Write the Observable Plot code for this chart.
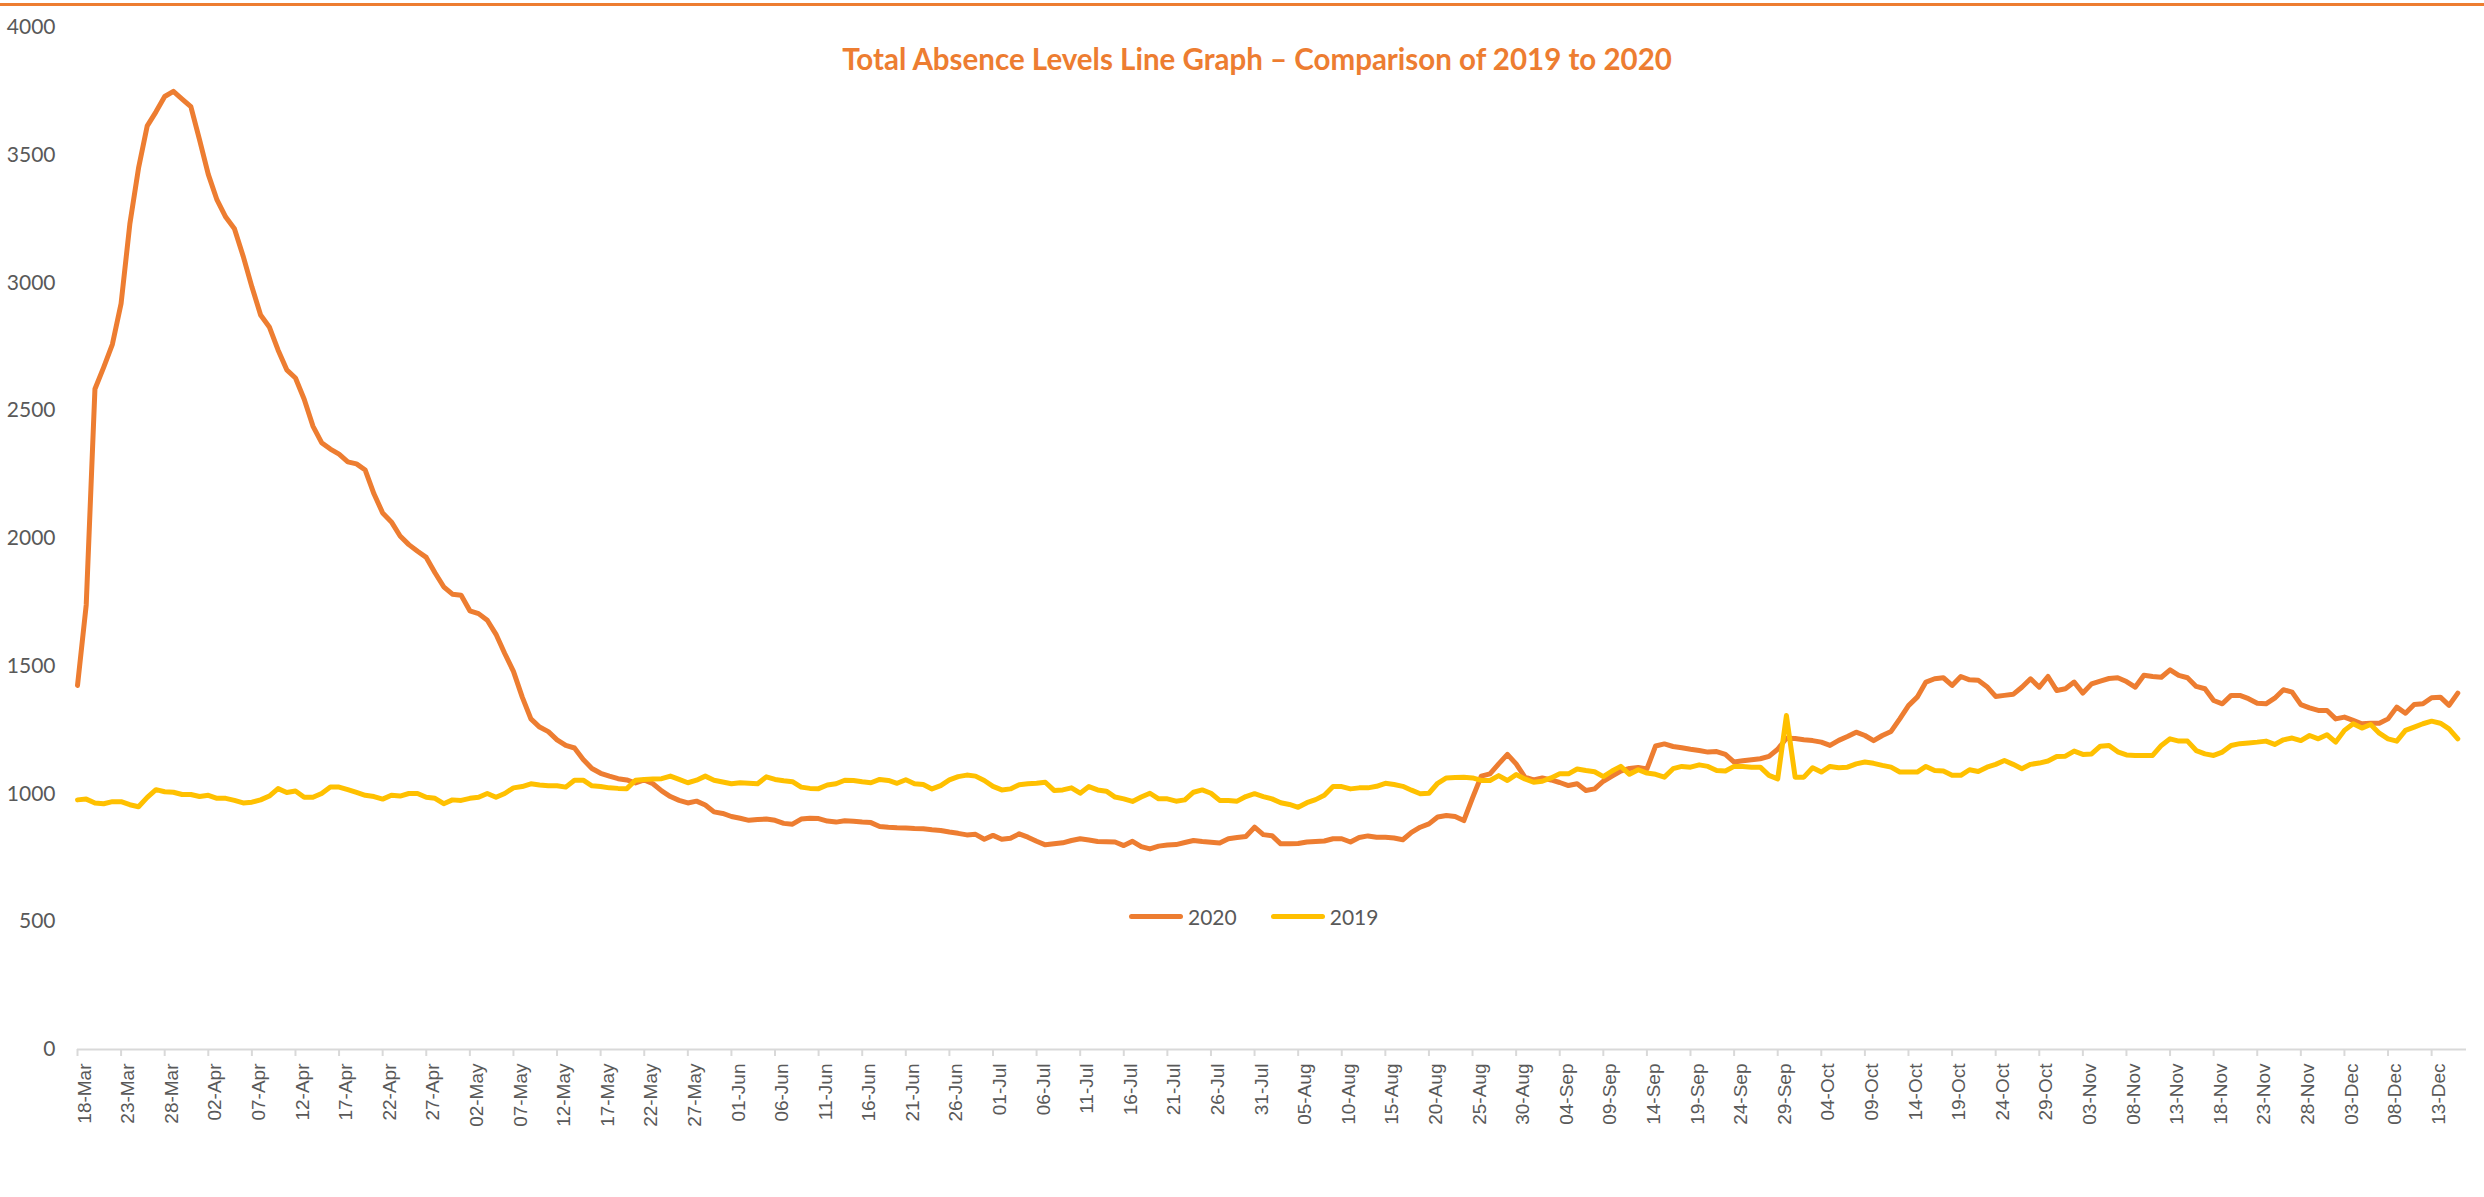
<!DOCTYPE html>
<html>
<head>
<meta charset="utf-8">
<script src="https://cdn.jsdelivr.net/npm/d3@7"></script>
<script src="https://cdn.jsdelivr.net/npm/@observablehq/plot@0.6"></script>
<style>
  html, body { margin: 0; padding: 0; background: #fff; }
  #wrap { position: relative; width: 2484px; height: 1197px; overflow: hidden; }
  #topline { position: absolute; left: 0; top: 3px; width: 2484px; height: 3px; background: #ED7D31; }
  #title { position: absolute; left: 1257px; top: 44px; transform: translateX(-50%); white-space: nowrap;
           font-family: Lato, sans-serif; font-weight: 700; font-size: 29.5px; line-height: 30px; color: #ED7D31; }
  #legend { position: absolute; left: 1129px; top: 903px; height: 26px; display: flex; align-items: center;
            font-family: Lato, sans-serif; font-size: 21px; color: #595959; }
  .sw { display: inline-block; width: 54px; height: 5px; border-radius: 3px; margin-right: 5px; }
  .item { display: flex; align-items: center; margin-right: 34px; }
</style>
</head>
<body>
<div id="wrap">
  <div id="topline"></div>
  <div id="chart"></div>
  <div id="title">Total Absence Levels Line Graph – Comparison of 2019 to 2020</div>
  <div id="legend"></div>
</div>
<script>
// Series names and colours
const seriesNames = ["2020", "2019"];
const seriesColors = ["#ED7D31", "#FFC000"];

// Daily total absence, 18-Mar to 16-Dec (one value per day)
const absence2020 = [
1425,1740,2585,2670,2760,2920,3230,3450,3615,3670,
3730,3750,3720,3690,3560,3425,3325,3258,3212,3105,
2985,2875,2828,2738,2660,2628,2545,2440,2375,2350,
2330,2300,2292,2268,2175,2100,2065,2010,1976,1950,
1926,1866,1811,1782,1778,1717,1706,1680,1625,1550,
1480,1380,1294,1262,1244,1212,1190,1180,1135,1100,
1081,1070,1060,1055,1043,1055,1040,1012,990,975,
965,972,957,930,924,912,905,897,900,902,
897,885,882,902,905,904,894,890,895,893,
890,888,873,870,868,867,865,864,860,857,
851,846,840,842,823,838,823,827,844,831,
815,801,805,809,818,825,820,814,813,812,
798,815,794,785,796,800,802,810,818,814,
811,808,825,830,834,870,841,837,805,805,
806,812,814,816,825,825,812,830,836,831,
831,828,821,850,870,883,910,916,912,896,
985,1070,1079,1118,1155,1118,1066,1055,1063,1055,
1045,1033,1040,1014,1020,1050,1070,1090,1100,1104,
1098,1188,1196,1186,1181,1175,1170,1164,1166,1155,
1125,1130,1134,1138,1147,1175,1218,1217,1212,1209,
1203,1190,1210,1225,1242,1229,1209,1229,1245,1294,
1346,1379,1438,1451,1455,1425,1460,1447,1445,1420,
1382,1386,1390,1418,1451,1418,1460,1405,1412,1438,
1395,1431,1442,1452,1455,1440,1418,1465,1460,1457,
1486,1464,1455,1421,1412,1366,1353,1386,1386,1373,
1355,1353,1375,1408,1399,1350,1337,1327,1327,1294,
1301,1288,1275,1277,1277,1294,1340,1316,1350,1353,
1377,1379,1347,1395];

const absence2019 = [
977,980,965,962,970,970,958,950,987,1017,
1009,1007,998,998,990,995,983,983,975,965,
968,977,992,1021,1006,1012,987,987,1002,1027,
1027,1017,1006,995,990,980,995,992,1002,1002,
987,983,962,977,975,983,987,1002,987,1002,
1024,1029,1040,1035,1032,1032,1027,1054,1054,1032,
1029,1024,1022,1021,1054,1057,1059,1060,1070,1057,
1044,1054,1070,1054,1047,1040,1044,1042,1040,1067,
1057,1052,1048,1027,1022,1021,1035,1040,1054,1053,
1048,1044,1057,1053,1042,1056,1040,1037,1020,1033,
1055,1068,1074,1070,1053,1030,1016,1020,1036,1040,
1042,1046,1014,1016,1024,1003,1029,1016,1011,988,
981,971,988,1003,981,981,972,977,1007,1016,
1003,975,975,972,990,1001,990,981,966,959,
948,966,978,995,1029,1029,1020,1024,1024,1030,
1042,1037,1030,1015,1001,1003,1042,1063,1065,1066,
1063,1053,1053,1072,1053,1076,1059,1046,1050,1063,
1079,1079,1098,1092,1087,1068,1090,1108,1077,1095,
1082,1077,1066,1099,1108,1105,1114,1108,1092,1090,
1108,1108,1105,1105,1073,1059,1307,1066,1066,1103,
1086,1108,1103,1105,1118,1125,1120,1112,1105,1086,
1086,1086,1108,1092,1090,1073,1073,1095,1088,1105,
1116,1131,1116,1099,1116,1121,1129,1147,1148,1168,
1155,1157,1187,1190,1165,1153,1151,1151,1151,1190,
1216,1207,1207,1170,1157,1151,1164,1190,1197,1200,
1203,1207,1194,1212,1219,1209,1229,1216,1232,1203,
1249,1275,1258,1272,1238,1216,1207,1249,1262,1275,
1285,1277,1255,1216];

// X tick labels (every fifth day)
const tickLabels = ["18-Mar","23-Mar","28-Mar","02-Apr","07-Apr","12-Apr","17-Apr","22-Apr","27-Apr",
"02-May","07-May","12-May","17-May","22-May","27-May","01-Jun","06-Jun","11-Jun","16-Jun","21-Jun",
"26-Jun","01-Jul","06-Jul","11-Jul","16-Jul","21-Jul","26-Jul","31-Jul","05-Aug","10-Aug","15-Aug",
"20-Aug","25-Aug","30-Aug","04-Sep","09-Sep","14-Sep","19-Sep","24-Sep","29-Sep","04-Oct","09-Oct",
"14-Oct","19-Oct","24-Oct","29-Oct","03-Nov","08-Nov","13-Nov","18-Nov","23-Nov","28-Nov","03-Dec",
"08-Dec","13-Dec"];

// Y tick values
const yTicks = [0, 500, 1000, 1500, 2000, 2500, 3000, 3500, 4000];

const tickDays = tickLabels.map((_, i) => i * 5);

const rows = [];
absence2020.forEach((v, i) => rows.push({day: i, value: v, series: "2020"}));
absence2019.forEach((v, i) => rows.push({day: i, value: v, series: "2019"}));

const chart = Plot.plot({
  width: 2484,
  height: 1197,
  marginLeft: 77,
  marginRight: 18,
  marginTop: 27,
  marginBottom: 148,
  x: {type: "linear", domain: [0, 274]},
  y: {domain: [0, 4000]},
  color: {domain: seriesNames, range: seriesColors},
  style: {background: "transparent", color: "#595959", overflow: "visible"},
  marks: [
    Plot.ruleY([0], {stroke: "#d9d9d9", strokeWidth: 2}),
    Plot.axisX({ticks: tickDays, tickSize: 7, tickFormat: () => "", stroke: "#d9d9d9", strokeWidth: 2, label: null}),
    Plot.axisX({ticks: tickDays, tickSize: 0, tickPadding: 14, tickRotate: -90, dx: 7,
                tickFormat: d => tickLabels[Math.round(d / 5)], fontSize: 19,
                fontFamily: "Liberation Sans, Arial, sans-serif", fill: "#595959", label: null}),
    Plot.axisY({ticks: yTicks, tickSize: 0, tickPadding: 22, fontSize: 21,
                fontFamily: "Lato, sans-serif", fill: "#595959", label: null, tickFormat: d => String(d)}),
    Plot.line(rows, {x: "day", y: "value", z: "series", stroke: "series",
                     strokeWidth: 5, strokeLinejoin: "round", strokeLinecap: "round"})
  ]
});
document.getElementById("chart").appendChild(chart);

// Legend
const legend = document.getElementById("legend");
seriesNames.forEach((name, i) => {
  const item = document.createElement("div");
  item.className = "item";
  const sw = document.createElement("span");
  sw.className = "sw";
  sw.style.background = seriesColors[i];
  const label = document.createElement("span");
  label.textContent = name;
  item.appendChild(sw);
  item.appendChild(label);
  legend.appendChild(item);
});
</script>
</body>
</html>
